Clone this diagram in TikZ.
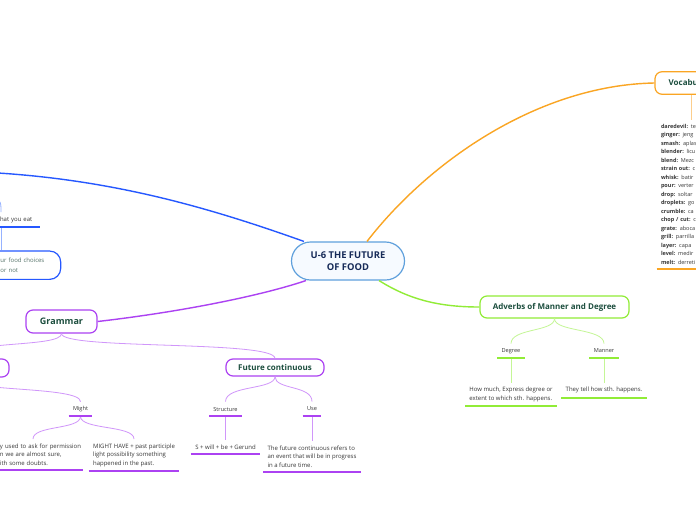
\documentclass[tikz,border=0pt]{standalone}
\usepackage{fontspec}
\setmainfont{Open Sans}

\definecolor{corefill}{RGB}{246,250,255}
\definecolor{coreline}{RGB}{95,160,220}
\definecolor{coretext}{RGB}{22,42,88}
\definecolor{titlegreen}{RGB}{28,78,62}
\definecolor{bodygrey}{RGB}{55,55,55}
\definecolor{foodgrey}{RGB}{85,115,105}
\definecolor{bluebr}{RGB}{38,88,255}
\definecolor{bluetw}{RGB}{150,178,255}
\definecolor{purplebr}{RGB}{172,66,242}
\definecolor{purpletw}{RGB}{208,150,250}
\definecolor{greenbr}{RGB}{145,236,55}
\definecolor{greentw}{RGB}{196,246,150}
\definecolor{orangebr}{RGB}{250,165,35}
\definecolor{orangetw}{RGB}{252,206,140}

\tikzset{every picture/.style={line width=0.75pt}}
\tikzset{
  topic/.style={draw, rounded corners=7pt, line width=1.2pt, fill=white, inner sep=0pt, text=titlegreen, font=\fontsize{8}{9}\selectfont\bfseries},
  tag/.style={inner xsep=4pt, inner ysep=0pt, minimum height=14pt, text=bodygrey, font=\fontsize{5.6}{7}\selectfont},
  leaf/.style={inner xsep=4pt, inner ysep=4.3pt, align=left, text=bodygrey, font=\fontsize{6}{8.5}\selectfont},
  limb/.style={line width=1.4pt},
  twig/.style={line width=0.8pt},
  underbar/.style={line width=1.8pt},
}

\begin{document}
\begin{tikzpicture}[x=1pt,y=1pt,yscale=-1,xscale=1]
	\useasboundingbox (0,0) rectangle (696,520);
	\fill[white] (0,0) rectangle (696,520);
	\clip (0,0) rectangle (696,520);
	
	% Central Node
	\node[draw=coreline, fill=corefill, line width=1.2pt, rounded corners=19pt, minimum width=113pt, minimum height=38pt, inner sep=0pt, align=center, text=coretext, font=\fontsize{9.4}{12.5}\selectfont\bfseries] (core) at (348,261) {U-6 THE FUTURE\\OF FOOD};
	
	% Topic Nodes
	\node[topic, draw=purplebr, minimum width=71pt, minimum height=23pt, font=\fontsize{9}{10}\selectfont\bfseries] (grammar) at (61.5,321.5) {Grammar};
	\node[topic, draw=purplebr, minimum width=98pt, minimum height=18pt] (leftmodal) at (-40,368) {};
	\node[topic, draw=purplebr, minimum width=98pt, minimum height=17pt] (futcont) at (275,367.5) {Future continuous};
	\node[topic, draw=greenbr, minimum width=149pt, minimum height=22pt] (adverbs) at (554.5,307) {Adverbs of Manner and Degree};
	\node[topic, draw=orangebr, minimum width=72pt, minimum height=22.5pt] (vocab) at (691,83) {Vocabulary};
	
	% Text Node
	\node[tag, text width=70pt, align=left, font=\fontsize{6}{7}\selectfont] (eatlabel) at (1,219.5) {\mbox{\hspace*{34pt}hat you eat}};
	% Text Node
	\node[draw=bluebr, line width=1.2pt, rounded corners=11pt, minimum width=119.4pt, minimum height=28.3pt, inner sep=0pt, text width=82pt, align=left, text=foodgrey, font=\fontsize{6}{10}\selectfont] (foodbox) at (1,265.2) {\mbox{\hspace*{40.5pt}ur food choices}\\\mbox{\hspace*{40.5pt}or not}};
	
	% Text Node
	\node[tag] (might) at (80.5,409) {Might};
	\node[tag] (structure) at (225.5,409) {Structure};
	\node[tag] (use) at (312,409) {Use};
	\node[tag] (degree) at (511,351) {Degree};
	\node[tag] (manner) at (604,351) {Manner};
	
	% Text Node
	\node[leaf, anchor=north, text width=92pt] (mightleft) at (33,439) {\mbox{\hspace*{13pt}y used to ask for permission}\\\mbox{\hspace*{13pt}n we are almost sure,}\\\mbox{\hspace*{13pt}ith some doubts.}};
	\node[leaf, anchor=north] (mightright) at (134,439) {MIGHT HAVE + past participle\\light possibility something\\happened in the past.};
	\node[leaf, anchor=north] (gerund) at (225.5,440) {S + will + be + Gerund};
	\node[leaf, anchor=north] (usetext) at (312,441) {The future continuous refers to\\an event that will be in progress\\in a future time.};
	\node[leaf, anchor=north] (degreetext) at (511,382.5) {How much, Express degree or\\extent to which sth. happens.};
	\node[leaf, anchor=north] (mannertext) at (604,382.5) {They tell how sth. happens.};
	
	% Text Node
	\node[leaf, anchor=north, text width=60pt, font=\fontsize{5.5}{8.5}\selectfont] (vocablist) at (691,119.5) {\textbf{daredevil:} te\\\textbf{ginger:} jeng\\\textbf{smash:} aplas\\\textbf{blender:} licu\\\textbf{blend:} Mezc\\\textbf{strain out:} c\\\textbf{whisk:} batir\\\textbf{pour:} verter\\\textbf{drop:} soltar\\\textbf{droplets:} go\\\textbf{crumble:} ca\\\textbf{chop / cut:} c\\\textbf{grate:} aboca\\\textbf{grill:} parrilla\\\textbf{layer:} capa\\\textbf{level:} medir\\\textbf{melt:} derreti};
	
	% Off-screen ends
	\coordinate (healthend) at (-20,172);
	\coordinate (eatroot) at (-12,198);
	
	%Curve Lines
	\draw[limb, bluebr] ([xshift=13pt]core.north west) .. controls (210,208) and (110,178) .. (healthend);
	\draw[limb, orangebr] ([xshift=19pt]core.north) .. controls (430,160) and (540,85) .. (vocab.west);
	\draw[limb, purplebr] ([xshift=15pt]core.south west) .. controls (260,296) and (180,312) .. (grammar.east);
	\draw[limb, greenbr] ([xshift=-26pt]core.south east) .. controls (410,300) and (440,307) .. (adverbs.west);
	
	%Curve Lines
	\draw[twig, bluetw] (eatroot) .. controls (1,200) .. (eatlabel.north);
	\draw[twig, purpletw] (grammar.south) .. controls (61.5,348) and (-40,340) .. (leftmodal.north);
	\draw[twig, purpletw] (grammar.south) .. controls (61.5,350) and (275,340) .. (futcont.north);
	\draw[twig, purpletw] (leftmodal.south) .. controls (-40,392) and (80.5,386) .. (might.north);
	\draw[twig, purpletw] (might.south) .. controls (80.5,430) and (33,425) .. (mightleft.north);
	\draw[twig, purpletw] (might.south) .. controls (80.5,430) and (134,425) .. (mightright.north);
	\draw[twig, purpletw] (futcont.south) .. controls (275,390) and (225.5,385) .. (structure.north);
	\draw[twig, purpletw] (futcont.south) .. controls (275,390) and (312,385) .. (use.north);
	\draw[twig, greentw] (adverbs.south) .. controls (554.5,332) and (511,328) .. (degree.north);
	\draw[twig, greentw] (adverbs.south) .. controls (554.5,332) and (604,328) .. (manner.north);
	
	%Straight Lines
	\draw[twig, bluetw] (eatlabel.south) -- (foodbox.north);
	\draw[twig, purpletw] (structure.south) -- (gerund.north);
	\draw[twig, purpletw] (use.south) -- (usetext.north);
	\draw[twig, greentw] (degree.south) -- (degreetext.north);
	\draw[twig, greentw] (manner.south) -- (mannertext.north);
	\draw[twig, orangetw] (vocab.south) -- (vocablist.north);
	
	%Underlines
	\draw[underbar, bluebr] (eatlabel.south west) -- (eatlabel.south east);
	\foreach \n in {might,structure,use,mightleft,mightright,gerund,usetext}
		\draw[underbar, purplebr] (\n.south west) -- (\n.south east);
	\foreach \n in {degree,manner,degreetext,mannertext}
		\draw[underbar, greenbr] (\n.south west) -- (\n.south east);
	\draw[underbar, orangebr] (vocablist.south west) -- (vocablist.south east);
	
\end{tikzpicture}
\end{document}
